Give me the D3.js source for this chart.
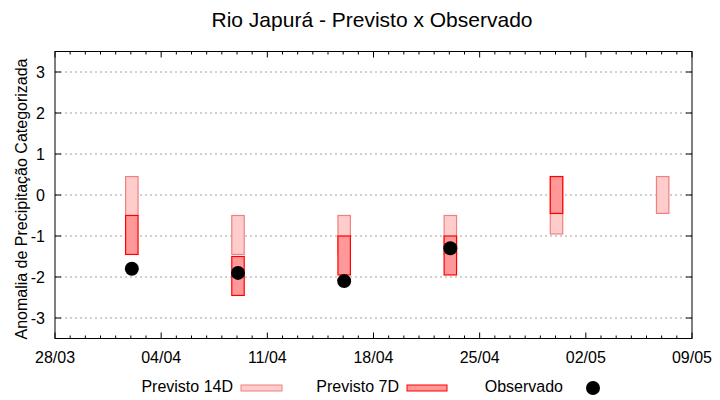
<!DOCTYPE html>
<html>
<head>
<meta charset="utf-8">
<script src="https://cdn.jsdelivr.net/npm/d3@7"></script>
<style>
  body { margin: 0; background: #fff; }
  svg text { font-family: "Liberation Sans", Arial, sans-serif; fill: #000; }
</style>
</head>
<body>
<svg id="chart" width="720" height="400"></svg>
<script>
// data
var dates = ["2021-04-02", "2021-04-09", "2021-04-16", "2021-04-23", "2021-04-30", "2021-05-07"];
var prev14Low  = [-0.5, -1.45, -1.45, -1.45, -0.95, -0.45];
var prev14High = [0.45, -0.5, -0.5, -0.5, 0.45, 0.45];
var prev7Low   = [-1.45, -2.45, -1.95, -1.95, -0.45, null];
var prev7High  = [-0.5, -1.5, -1.0, -1.0, 0.45, null];
var observado  = [-1.8, -1.9, -2.1, -1.3, null, null];
var yTicks = [-3, -2, -1, 0, 1, 2, 3];

var parse = d3.timeParse("%Y-%m-%d");
var svg = d3.select("#chart");

var margin = {top: 51.5, right: 28, bottom: 61.5, left: 55},
    width = 720 - margin.left - margin.right,
    height = 400 - margin.top - margin.bottom;

var x = d3.scaleTime()
    .domain([parse("2021-03-28"), parse("2021-05-09")])
    .range([0, width]);
var y = d3.scaleLinear().domain([-3.5, 3.5]).range([height, 0]);

var g = svg.append("g")
    .attr("transform", "translate(" + margin.left + "," + margin.top + ")");

// grid
g.selectAll(".grid").data(yTicks).enter().append("line")
    .attr("x1", 0).attr("x2", width)
    .attr("y1", function(d){ return y(d); })
    .attr("y2", function(d){ return y(d); })
    .attr("stroke", "#a0a0a0")
    .attr("stroke-dasharray", "2,3");

var days = d3.timeDay.range(x.domain()[0], d3.timeDay.offset(x.domain()[1], 1));
var weeks = days.filter(function(d, i){ return i % 7 === 0; });

// ticks (inward, mirrored)
function drawXTicks(y0, dir){
    g.selectAll(null).data(days).enter().append("line")
        .attr("x1", function(d){ return x(d); })
        .attr("x2", function(d){ return x(d); })
        .attr("y1", y0)
        .attr("y2", function(d, i){ return y0 + dir * (i % 7 === 0 ? 6 : 3); })
        .attr("stroke", "#000");
}
drawXTicks(height, -1);
drawXTicks(0, 1);

g.selectAll(null).data(yTicks).enter().append("line")
    .attr("x1", 0).attr("x2", 6)
    .attr("y1", function(d){ return y(d); }).attr("y2", function(d){ return y(d); })
    .attr("stroke", "#000");
g.selectAll(null).data(yTicks).enter().append("line")
    .attr("x1", width).attr("x2", width - 6)
    .attr("y1", function(d){ return y(d); }).attr("y2", function(d){ return y(d); })
    .attr("stroke", "#000");

// tick labels
var fmt = d3.timeFormat("%d/%m");
g.selectAll(null).data(weeks).enter().append("text")
    .attr("x", function(d){ return x(d); })
    .attr("y", height + 24)
    .attr("text-anchor", "middle")
    .style("font-size", "16px")
    .text(function(d){ return fmt(d); });

g.selectAll(null).data(yTicks).enter().append("text")
    .attr("x", -10)
    .attr("y", function(d){ return y(d) + 6; })
    .attr("text-anchor", "end")
    .style("font-size", "16px")
    .text(function(d){ return d; });

// bars
var barW = (x(parse("2021-04-02")) - x(parse("2021-04-01"))) * 0.82;

var rows = dates.map(function(d, i){
    return {date: parse(d), lo14: prev14Low[i], hi14: prev14High[i],
            lo7: prev7Low[i], hi7: prev7High[i], obs: observado[i]};
});

g.selectAll(".b14").data(rows).enter().append("rect")
    .attr("class", "b14")
    .attr("x", function(d){ return x(d.date) - barW / 2 + 1; })
    .attr("width", barW)
    .attr("y", function(d){ return y(d.hi14); })
    .attr("height", function(d){ return y(d.lo14) - y(d.hi14); })
    .attr("fill", "#ffcccc")
    .attr("stroke", "#f08080")
    .attr("stroke-width", 1.2);

g.selectAll(".b7").data(rows.filter(function(d){ return d.hi7 != null; })).enter().append("rect")
    .attr("class", "b7")
    .attr("x", function(d){ return x(d.date) - barW / 2 + 1; })
    .attr("width", barW)
    .attr("y", function(d){ return y(d.hi7); })
    .attr("height", function(d){ return y(d.lo7) - y(d.hi7); })
    .attr("fill", "#ff9999")
    .attr("stroke", "#ff0000")
    .attr("stroke-width", 1.2);

g.selectAll(".obs").data(rows.filter(function(d){ return d.obs != null; })).enter().append("circle")
    .attr("class", "obs")
    .attr("cx", function(d){ return x(d.date) + 1; })
    .attr("cy", function(d){ return y(d.obs); })
    .attr("r", 7)
    .attr("fill", "#000");

// frame
g.append("rect")
    .attr("width", width).attr("height", height)
    .attr("fill", "none").attr("stroke", "#000");

// title and axis label
svg.append("text")
    .attr("x", 372).attr("y", 27)
    .attr("text-anchor", "middle")
    .style("font-size", "21px")
    .text("Rio Japurá - Previsto x Observado");

svg.append("text")
    .attr("transform", "translate(27,199) rotate(-90)")
    .attr("text-anchor", "middle")
    .style("font-size", "16px")
    .text("Anomalia de Precipitação Categorizada");

// legend
var legend = svg.append("g");
legend.append("text").attr("x", 233).attr("y", 392).attr("text-anchor", "end")
    .style("font-size", "16px").text("Previsto 14D");
legend.append("rect").attr("x", 241).attr("y", 385).attr("width", 41).attr("height", 6)
    .attr("fill", "#ffcccc").attr("stroke", "#f08080");
legend.append("text").attr("x", 399).attr("y", 392).attr("text-anchor", "end")
    .style("font-size", "16px").text("Previsto 7D");
legend.append("rect").attr("x", 407).attr("y", 385).attr("width", 40).attr("height", 6)
    .attr("fill", "#ff9999").attr("stroke", "#ff0000");
legend.append("text").attr("x", 563).attr("y", 392).attr("text-anchor", "end")
    .style("font-size", "16px").text("Observado");
legend.append("circle").attr("cx", 593).attr("cy", 388).attr("r", 7).attr("fill", "#000");
</script>
</body>
</html>
